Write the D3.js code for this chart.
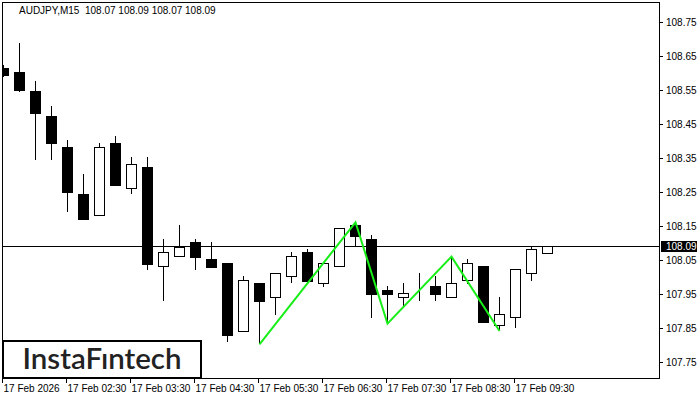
<!DOCTYPE html>
<html>
<head>
    <title>AUDJPY M15</title>
    <style>
        body { margin: 0; background: #fff; }
        .lbl { font-family: "Liberation Sans", Arial, sans-serif; font-size: 10px; fill: #000; }
    </style>
</head>
<body>
    <div id="chart"></div>

    <script src="https://d3js.org/d3.v7.min.js"></script>
    <script>
        // candles, 15 min each, first one is 17 Feb 01:30
        const opens  = [108.615, 108.604, 108.546, 108.475, 108.383, 108.245, 108.182, 108.394, 108.262, 108.324, 108.031, 108.061, 108.102, 108.052, 108.041, 107.840, 107.982, 107.940, 108.002, 108.073, 107.981, 108.031, 108.153, 108.112, 107.962, 107.940, 107.961, 107.973, 107.940, 107.990, 108.032, 107.860, 107.881, 108.011, 108.070];
        const highs  = [108.625, 108.687, 108.575, 108.504, 108.404, 108.304, 108.394, 108.416, 108.354, 108.354, 108.112, 108.153, 108.111, 108.103, 108.041, 108.002, 107.982, 108.011, 108.073, 108.082, 108.040, 108.144, 108.161, 108.124, 107.973, 107.983, 108.012, 108.003, 108.060, 108.053, 108.032, 107.941, 108.023, 108.091, 108.090];
        const lows   = [108.587, 108.544, 108.343, 108.343, 108.192, 108.172, 108.182, 108.272, 108.243, 108.021, 107.930, 108.061, 108.021, 108.030, 107.809, 107.840, 107.802, 107.889, 107.981, 107.985, 107.971, 108.031, 108.091, 107.880, 107.863, 107.912, 107.930, 107.930, 107.940, 107.980, 107.868, 107.844, 107.850, 107.989, 108.070];
        const closes = [108.594, 108.551, 108.482, 108.393, 108.251, 108.172, 108.383, 108.272, 108.332, 108.039, 108.073, 108.089, 108.060, 108.030, 107.830, 107.991, 107.930, 108.011, 108.061, 107.989, 108.040, 108.144, 108.122, 107.951, 107.951, 107.952, 107.961, 107.951, 107.981, 108.040, 107.868, 107.890, 108.023, 108.082, 108.090];

        // x axis labels (every 4 bars)
        const timeTickIdx = [0, 4, 8, 12, 16, 20, 24, 28, 32];
        const timeLabels = ["17 Feb 2026", "17 Feb 02:30", "17 Feb 03:30", "17 Feb 04:30", "17 Feb 05:30", "17 Feb 06:30", "17 Feb 07:30", "17 Feb 08:30", "17 Feb 09:30"];

        const priceTicks = [107.75, 107.85, 107.95, 108.05, 108.15, 108.25, 108.35, 108.45, 108.55, 108.65, 108.75];
        const lastPrice = 108.09;

        // pattern line (bar index, price)
        const patternIdx = [16, 22, 24, 28, 31];
        const patternPrice = [107.802, 108.161, 107.863, 108.060, 107.841];

        const title = "AUDJPY,M15  108.07 108.09 108.07 108.09";

        const frameL = 2.5, frameT = 2.5, frameR = 659.5, frameB = 378.5;

        const x = d3.scaleLinear().domain([0, 34]).range([3.5, 3.5 + 16 * 34]);
        const y = d3.scaleLinear().domain([107.75, 108.75]).range([362, 22]);

        const svg = d3.select("#chart").append("svg")
            .attr("width", 700)
            .attr("height", 400);

        svg.append("clipPath").attr("id", "plot")
            .append("rect")
            .attr("x", frameL + 0.5).attr("y", frameT + 0.5)
            .attr("width", frameR - frameL - 1).attr("height", frameB - frameT - 1);

        const plot = svg.append("g").attr("clip-path", "url(#plot)");

        // current price line
        plot.append("line")
            .attr("x1", frameL).attr("x2", frameR)
            .attr("y1", Math.round(y(lastPrice)) + 0.5).attr("y2", Math.round(y(lastPrice)) + 0.5)
            .attr("stroke", "#000")
            .attr("shape-rendering", "crispEdges");

        const bars = d3.range(opens.length);

        // wicks
        plot.selectAll(".wick")
            .data(bars)
            .enter()
            .append("line")
            .attr("class", "wick")
            .attr("x1", i => x(i)).attr("x2", i => x(i))
            .attr("y1", i => Math.round(y(highs[i])))
            .attr("y2", i => Math.round(y(lows[i])))
            .attr("stroke", "#000")
            .attr("shape-rendering", "crispEdges");

        // bodies
        plot.selectAll(".body")
            .data(bars)
            .enter()
            .append("rect")
            .attr("class", "body")
            .attr("x", i => x(i) - 5)
            .attr("y", i => Math.round(y(Math.max(opens[i], closes[i]))) + 0.5)
            .attr("width", 10)
            .attr("height", i => Math.max(0, Math.round(y(Math.min(opens[i], closes[i]))) - Math.round(y(Math.max(opens[i], closes[i])))))
            .attr("fill", i => closes[i] < opens[i] ? "#000" : "#fff")
            .attr("stroke", "#000")
            .attr("shape-rendering", "crispEdges");

        // pattern
        const line = d3.line()
            .x(d => x(d[0]))
            .y(d => y(d[1]));

        plot.append("path")
            .datum(patternIdx.map((d, k) => [d, patternPrice[k]]))
            .attr("d", line)
            .attr("fill", "none")
            .attr("stroke", "#16ee16")
            .attr("stroke-width", 2);

        // frame
        svg.append("rect")
            .attr("x", frameL).attr("y", frameT)
            .attr("width", frameR - frameL).attr("height", frameB - frameT)
            .attr("fill", "none")
            .attr("stroke", "#000")
            .attr("shape-rendering", "crispEdges");

        svg.append("text")
            .attr("class", "lbl")
            .attr("x", 19)
            .attr("y", 14)
            .attr("xml:space", "preserve")
            .style("white-space", "pre")
            .text(title);

        // y axis
        const yAxis = svg.append("g");
        yAxis.selectAll("line")
            .data(priceTicks)
            .enter()
            .append("line")
            .attr("x1", frameR).attr("x2", frameR + 3)
            .attr("y1", d => Math.round(y(d)) + 0.5).attr("y2", d => Math.round(y(d)) + 0.5)
            .attr("stroke", "#000")
            .attr("shape-rendering", "crispEdges");
        yAxis.selectAll("text")
            .data(priceTicks)
            .enter()
            .append("text")
            .attr("class", "lbl")
            .attr("x", 666)
            .attr("y", d => y(d) + 4)
            .text(d => d.toFixed(2));

        // last price tag
        svg.append("rect")
            .attr("x", 661).attr("y", Math.round(y(lastPrice)) - 5)
            .attr("width", 36).attr("height", 11)
            .attr("fill", "#000");
        svg.append("text")
            .attr("class", "lbl")
            .attr("x", 666)
            .attr("y", y(lastPrice) + 4)
            .style("fill", "#fff")
            .text(lastPrice.toFixed(2));

        // x axis
        const xAxis = svg.append("g");
        xAxis.selectAll("line")
            .data(timeTickIdx)
            .enter()
            .append("line")
            .attr("x1", d => Math.floor(x(d)) + 0.5 - 1).attr("x2", d => Math.floor(x(d)) + 0.5 - 1)
            .attr("y1", frameB).attr("y2", frameB + 4)
            .attr("stroke", "#000")
            .attr("shape-rendering", "crispEdges");
        xAxis.selectAll("text")
            .data(timeTickIdx)
            .enter()
            .append("text")
            .attr("class", "lbl")
            .attr("x", d => x(d))
            .attr("y", 392)
            .text((d, k) => timeLabels[k]);

        // logo
        svg.append("rect")
            .attr("x", 3).attr("y", 341)
            .attr("width", 198).attr("height", 37)
            .attr("fill", "#fff")
            .attr("stroke", "#000")
            .attr("stroke-width", 2);
        svg.append("text")
            .attr("x", 102)
            .attr("y", 369)
            .attr("text-anchor", "middle")
            .attr("textLength", 159)
            .attr("lengthAdjust", "spacingAndGlyphs")
            .style("font-family", "Lato, 'Open Sans', sans-serif")
            .style("font-weight", "600")
            .style("font-size", "28px")
            .style("fill", "#222")
            .text("InstaF\u0131ntech");
    </script>
</body>
</html>
